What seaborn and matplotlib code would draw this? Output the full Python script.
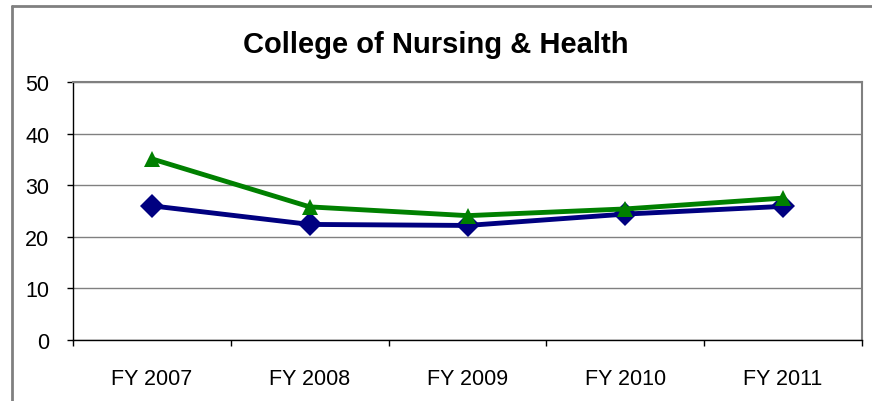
import seaborn as sns
import matplotlib.pyplot as plt
import pandas as pd
from matplotlib.lines import Line2D
from matplotlib.ticker import FixedLocator

# values
years = ["FY 2007", "FY 2008", "FY 2009", "FY 2010", "FY 2011"]
series_blue = [26.0, 22.4, 22.2, 24.4, 25.9]
series_green = [35.1, 25.8, 24.1, 25.4, 27.5]
y_ticks = [0, 10, 20, 30, 40, 50]

df = pd.DataFrame({
    "Year": years * 2,
    "Value": series_blue + series_green,
    "Series": ["Series 1"] * len(years) + ["Series 2"] * len(years),
})
df["pos"] = df["Year"].map({y: i for i, y in enumerate(years)})

sns.set_theme(style="white")
plt.rcParams["font.family"] = ["Liberation Sans", "DejaVu Sans"]
plt.rcParams["text.color"] = "black"
plt.rcParams["xtick.color"] = "black"
plt.rcParams["ytick.color"] = "black"

fig = plt.figure(figsize=(8.72, 4.02), dpi=100)
ax = fig.add_axes([73 / 872, 1 - 341 / 402, (862 - 73) / 872, (341 - 83) / 402])

palette = {"Series 1": "#000080", "Series 2": "#008000"}
sns.lineplot(data=df, x="pos", y="Value", hue="Series", style="Series",
             markers={"Series 1": "D", "Series 2": "^"}, dashes=False,
             palette=palette, linewidth=3.5, markersize=12, markeredgewidth=0,
             legend=False, ax=ax)

ax.set_xlim(-0.5, len(years) - 0.5)
ax.set_ylim(0, 50)
ax.set_yticks(y_ticks)
ax.yaxis.grid(True, color="#808080", linewidth=1)
ax.set_axisbelow(True)

# category boundaries get the tick marks, labels sit in the middle
ax.xaxis.set_major_locator(FixedLocator([i - 0.5 for i in range(len(years) + 1)]))
ax.xaxis.set_minor_locator(FixedLocator(list(range(len(years)))))
ax.set_xticklabels([])
ax.set_xticklabels(years, minor=True)
ax.tick_params(axis="x", which="major", direction="out", length=4, width=1, color="black", bottom=True)
ax.tick_params(axis="x", which="minor", length=0, pad=20, labelsize=15.5, labelcolor="black")
ax.tick_params(axis="y", direction="out", length=4, width=1, color="black", left=True, pad=13,
               labelsize=15.5, labelcolor="black")
ax.set_xlabel("")
ax.set_ylabel("")

for side in ["left", "bottom"]:
    ax.spines[side].set_color("black")
    ax.spines[side].set_linewidth(1)
for side in ["top", "right"]:
    ax.spines[side].set_color("#808080")
    ax.spines[side].set_linewidth(1.5)

fig.text(0.5, 1 - 53 / 402, "College of Nursing & Health", ha="center", va="baseline",
         fontsize=21, fontweight="bold", color="black")

# outer chart frame (left and top edges visible)
fig.add_artist(Line2D([12 / 872, 12 / 872], [0, 1 - 7 / 402], transform=fig.transFigure,
                      color="#808080", linewidth=2))
fig.add_artist(Line2D([12 / 872, 1], [1 - 7 / 402, 1 - 7 / 402], transform=fig.transFigure,
                      color="#808080", linewidth=2))

plt.savefig("out.png", dpi=100)
